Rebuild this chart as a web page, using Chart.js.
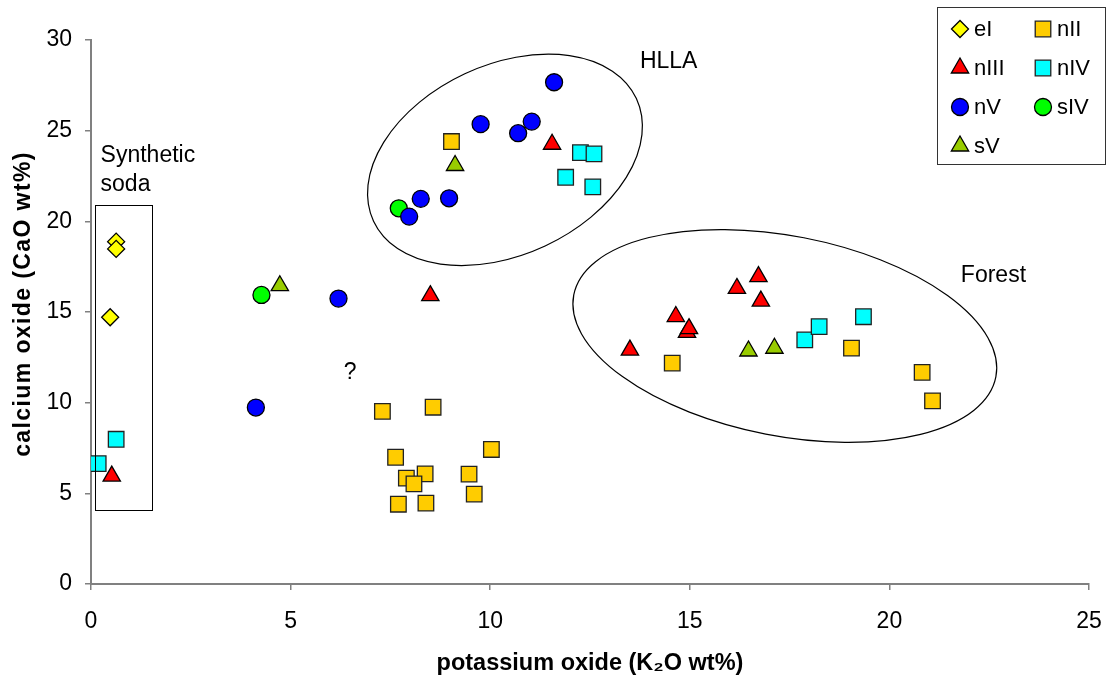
<!DOCTYPE html>
<html>
<head>
<meta charset="utf-8">
<script src="https://cdn.jsdelivr.net/npm/chart.js@4.4.0/dist/chart.umd.min.js"></script>
<style>
  html, body { margin: 0; padding: 0; background: #fff; }
  #wrap { width: 1110px; height: 679px; }
</style>
</head>
<body>
<div id="wrap"><canvas id="oxideChart" width="1110" height="679"></canvas></div>
<script>
// ===== Data =====
const xTicks = [0, 5, 10, 15, 20, 25];
const yTicks = [0, 5, 10, 15, 20, 25, 30];

const eI_x = [0.63, 0.63, 0.48];
const eI_y = [18.88, 18.48, 14.71];

const nII_x = [9.03, 7.30, 8.57, 7.63, 7.90, 8.37, 8.09, 7.70, 8.39, 10.03, 9.47, 9.60, 14.56, 19.05, 20.82, 21.08];
const nII_y = [24.40, 9.52, 9.75, 6.99, 5.84, 6.07, 5.52, 4.40, 4.46, 7.42, 6.06, 4.96, 12.18, 13.01, 11.67, 10.10];

const nIII_x = [0.52, 8.50, 11.55, 16.72, 16.18, 16.78, 14.65, 14.93, 14.98, 13.50];
const nIII_y = [5.95, 15.90, 24.25, 16.95, 16.30, 15.60, 14.75, 13.88, 14.08, 12.90];

const nIV_x = [0.63, 0.18, 12.26, 12.60, 11.89, 12.57, 17.88, 18.24, 19.35];
const nIV_y = [7.98, 6.64, 23.79, 23.72, 22.43, 21.90, 13.46, 14.19, 14.74];

const nV_x = [4.13, 6.20, 11.60, 9.76, 11.04, 10.70, 8.26, 8.97, 7.97];
const nV_y = [9.73, 15.74, 27.67, 25.36, 25.50, 24.86, 21.24, 21.27, 20.26];

const sIV_x = [4.27, 7.71];
const sIV_y = [15.94, 20.72];

const sV_x = [4.73, 9.12, 16.47, 17.12];
const sV_y = [16.45, 23.08, 12.85, 13.00];

const FONT = '"Liberation Sans", Arial, sans-serif';

function pts(xs, ys) {
    return xs.map((x, i) => ({ x: x, y: ys[i] }));
}

function series(label, xs, ys, style, radius, fill, edge) {
    return {
        label: label,
        data: pts(xs, ys),
        pointStyle: style,
        pointRadius: radius,
        pointHoverRadius: radius,
        backgroundColor: fill,
        borderColor: edge || "#000",
        pointBorderWidth: 1.3,
        showLine: false
    };
}

const datasets = [
    series("eI", eI_x, eI_y, "rectRot", 8.5, "#FFFF00"),
    series("nII", nII_x, nII_y, "rect", 11, "#FFCC00", "#222"),
    series("nIII", nIII_x, nIII_y, "triangle", 10, "#FF0000"),
    series("nIV", nIV_x, nIV_y, "rect", 11, "#00FFFF", "#222"),
    series("nV", nV_x, nV_y, "circle", 8.5, "#0000FF"),
    series("sIV", sIV_x, sIV_y, "circle", 8.5, "#00FF00"),
    series("sV", sV_x, sV_y, "triangle", 10, "#99CC00")
];

// ===== Annotations: group outlines, labels, legend =====
function drawMarker(ctx, ds, x, y) {
    ctx.save();
    ctx.fillStyle = ds.backgroundColor;
    ctx.strokeStyle = ds.borderColor;
    ctx.lineWidth = ds.pointBorderWidth;
    if (Chart.helpers && Chart.helpers.drawPoint) {
        Chart.helpers.drawPoint(ctx, { pointStyle: ds.pointStyle, radius: ds.pointRadius, rotation: 0, borderWidth: ds.pointBorderWidth }, x, y);
    } else {
        ctx.beginPath();
        ctx.arc(x, y, ds.pointRadius, 0, Math.PI * 2);
        ctx.fill();
        ctx.stroke();
    }
    ctx.restore();
}

const groupsPlugin = {
    id: "groups",
    afterDraw(chart) {
        const ctx = chart.ctx;
        const xs = chart.scales.x, ys = chart.scales.y;
        const area = chart.chartArea;
        ctx.save();
        ctx.strokeStyle = "#000";
        ctx.lineWidth = 1.2;

        // HLLA ellipse
        ctx.beginPath();
        ctx.ellipse(xs.getPixelForValue(10.37), ys.getPixelForValue(23.39), 145, 95, -25 * Math.PI / 180, 0, Math.PI * 2);
        ctx.stroke();

        // Forest ellipse
        ctx.beginPath();
        ctx.ellipse(xs.getPixelForValue(17.38), ys.getPixelForValue(13.68), 215, 100, 11 * Math.PI / 180, 0, Math.PI * 2);
        ctx.stroke();

        // Synthetic soda box
        const bx0 = xs.getPixelForValue(0.1), bx1 = xs.getPixelForValue(1.53);
        const by0 = ys.getPixelForValue(20.88), by1 = ys.getPixelForValue(4.08);
        ctx.lineWidth = 1;
        ctx.strokeRect(Math.round(bx0) + 0.5, Math.round(by0) + 0.5, Math.round(bx1 - bx0), Math.round(by1 - by0));

        // labels
        ctx.fillStyle = "#000";
        ctx.font = "23px " + FONT;
        ctx.textAlign = "left";
        ctx.textBaseline = "alphabetic";
        ctx.fillText("HLLA", xs.getPixelForValue(13.75), ys.getPixelForValue(28.46));
        ctx.fillText("Synthetic", xs.getPixelForValue(0.24), ys.getPixelForValue(23.29));
        ctx.fillText("soda", xs.getPixelForValue(0.24), ys.getPixelForValue(21.68));
        ctx.fillText("Forest", xs.getPixelForValue(21.79), ys.getPixelForValue(16.64));
        ctx.fillText("?", xs.getPixelForValue(6.33), ys.getPixelForValue(11.29));

        // y axis title (rotated, slightly spaced like the original)
        ctx.save();
        ctx.translate(24, (area.top + area.bottom) / 2 - 8);
        ctx.rotate(-Math.PI / 2);
        ctx.font = "bold 23px " + FONT;
        ctx.textAlign = "center";
        ctx.textBaseline = "middle";
        if ("letterSpacing" in ctx) ctx.letterSpacing = "1.4px";
        ctx.fillText("calcium oxide (CaO wt%)", 0, 0);
        ctx.restore();

        // legend box, two columns
        const box = { left: 937, top: 7, right: 1105, bottom: 164 };
        ctx.fillStyle = "#fff";
        ctx.fillRect(box.left, box.top, box.right - box.left, box.bottom - box.top);
        ctx.strokeStyle = "#333";
        ctx.lineWidth = 1;
        ctx.strokeRect(box.left + 0.5, box.top + 0.5, box.right - box.left, box.bottom - box.top);
        const colX = [960, 1043];
        const rowY = [29, 68, 107, 146];
        ctx.font = "22px " + FONT;
        ctx.textBaseline = "middle";
        chart.data.datasets.forEach((ds, i) => {
            const mx = colX[i % 2], my = rowY[Math.floor(i / 2)];
            drawMarker(ctx, ds, mx, my);
            ctx.fillStyle = "#000";
            ctx.fillText(ds.label, mx + 14, my + 1);
        });
        ctx.restore();
    }
};

// ===== Chart.js Initialization =====
const oxideChart = new Chart(document.getElementById("oxideChart").getContext("2d"), {
    type: "scatter",
    data: { datasets: datasets },
    options: {
        responsive: false,
        animation: false,
        devicePixelRatio: 1,
        layout: { padding: { top: 40, right: 21, left: 0, bottom: 0 } },
        plugins: {
            legend: { display: false },
            tooltip: { enabled: false }
        },
        scales: {
            x: {
                type: "linear",
                min: xTicks[0],
                max: xTicks[xTicks.length - 1],
                ticks: {
                    stepSize: xTicks[1] - xTicks[0],
                    color: "#000",
                    font: { family: FONT, size: 23 },
                    padding: 18
                },
                grid: { drawOnChartArea: false, drawTicks: true, tickLength: 6, color: "#808080", lineWidth: 1.5 },
                border: { color: "#808080", width: 2 },
                title: {
                    display: true,
                    text: "potassium oxide (K\u2082O wt%)",
                    color: "#000",
                    font: { family: FONT, size: 23.5, weight: "bold" },
                    padding: { top: 0, bottom: 1 }
                },
                afterFit: function (scale) {
                    scale.height = 95;
                    scale.paddingLeft = 0;
                    scale.paddingRight = 0;
                }
            },
            y: {
                type: "linear",
                min: yTicks[0],
                max: yTicks[yTicks.length - 1],
                ticks: {
                    stepSize: yTicks[1] - yTicks[0],
                    color: "#000",
                    font: { family: FONT, size: 23 },
                    padding: 13
                },
                grid: { drawOnChartArea: false, drawTicks: true, tickLength: 6, color: "#808080", lineWidth: 1.5 },
                border: { color: "#808080", width: 2 },
                afterFit: function (scale) { scale.width = 91; }
            }
        }
    },
    plugins: [groupsPlugin]
});
</script>
</body>
</html>
